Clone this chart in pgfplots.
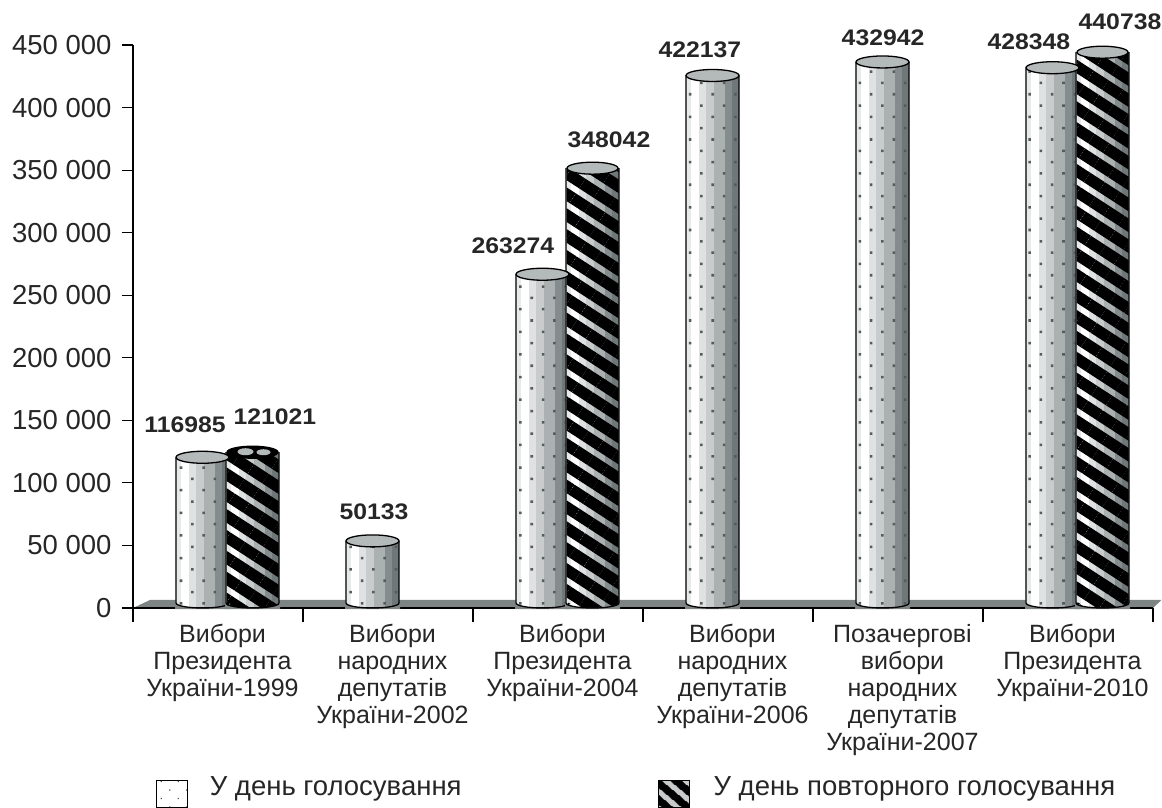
\documentclass[border=0pt]{standalone}
\usepackage{fontspec}
\setmainfont{Liberation Sans}
\newfontfamily\lblfont[FakeStretch=1.1]{Liberation Sans Bold}
\usepackage{pgfplots}
\usepackage{pgfplotstable}
\pgfplotsset{compat=1.18}
\usetikzlibrary{patterns.meta}

\definecolor{ground}{HTML}{7E8384}
\definecolor{capgrey}{HTML}{B4B9BA}
\definecolor{dotgrey}{HTML}{565C5D}
\definecolor{bA}{HTML}{E8E9E9}
\definecolor{bB}{HTML}{FFFFFF}
\definecolor{bC}{HTML}{DFE2E2}
\definecolor{bD}{HTML}{C9CCCD}
\definecolor{bE}{HTML}{ABB0B1}
\definecolor{bF}{HTML}{858C8D}
\definecolor{bG}{HTML}{6F7778}

% first bars, second bars (x = category + offset inside it)
\pgfplotstableread{
x v
0.409 116985
1.409 50133
2.409 263274
3.409 422137
4.409 432942
5.409 428348
}\firsttbl
\pgfplotstableread{
x v
0.703 121021
2.703 348042
5.703 440738
}\secondtbl
% label positions
\pgfplotstableread{
x y v
0.306 146270 116985
0.835 152660 121021
1.418 76730 50133
2.235 289340 263274
2.800 374070 348042
3.335 446000 422137
4.412 455600 432942
5.270 452400 428348
5.806 468400 440738
}\labeltbl

\pgfdeclareplotmark{captop}{%
  \pgfpathellipse{\pgfpointorigin}{\pgfqpoint{26.5pt}{0pt}}{\pgfqpoint{0pt}{6pt}}%
  \pgfusepathqfillstroke}
\pgfdeclareplotmark{captopB}{%
  \pgfpathellipse{\pgfpointorigin}{\pgfqpoint{25.5pt}{0pt}}{\pgfqpoint{0pt}{6pt}}%
  \pgfusepathqfillstroke
  \pgfsetfillcolor{capgrey}%
  \pgfpathellipse{\pgfqpoint{-7pt}{0.5pt}}{\pgfqpoint{8pt}{0pt}}{\pgfqpoint{0pt}{3.5pt}}%
  \pgfpathellipse{\pgfqpoint{11pt}{0pt}}{\pgfqpoint{7pt}{0pt}}{\pgfqpoint{0pt}{3pt}}%
  \pgfusepathqfill}
\pgfdeclareplotmark{capbase}{%
  \pgfsetfillcolor{ground}%
  \pgfpathmoveto{\pgfqpoint{-27.5pt}{-1pt}}%
  \pgfpathlineto{\pgfqpoint{-27.5pt}{5pt}}%
  \pgfpathlineto{\pgfqpoint{-26.5pt}{5pt}}%
  \pgfpatharc{180}{360}{26.5pt and 5pt}%
  \pgfpathlineto{\pgfqpoint{27.5pt}{5pt}}%
  \pgfpathlineto{\pgfqpoint{27.5pt}{-1pt}}%
  \pgfpathclose
  \pgfusepathqfill
  \pgfpathmoveto{\pgfqpoint{-26.5pt}{5pt}}%
  \pgfpatharc{180}{360}{26.5pt and 5pt}%
  \pgfusepathqstroke}

\newcommand{\band}[4]{\addplot[ybar,bar shift=#2pt,bar width=#3pt,fill=#4,draw=none,forget plot]
  table[x=x,y expr=\thisrow{v}+3500] {#1};}
\newcommand{\ribs}[1]{%
  \band{#1}{-24}{6}{bA}
  \band{#1}{-17}{9}{bB}
  \band{#1}{-9.5}{8}{bC}
  \band{#1}{-2}{9}{bD}
  \band{#1}{7}{11}{bE}
  \band{#1}{16.5}{8}{bF}
  \band{#1}{23}{7}{bG}}
\newcommand{\edges}[1]{%
  \band{#1}{-26.5}{1.4}{black}
  \band{#1}{26.5}{1.4}{black}}

\begin{document}
\begin{tikzpicture}[x=1pt,y=1pt]
\useasboundingbox (-133,-199) rectangle (1029,608);
\begin{axis}[
    scale only axis,
    width=1020pt,
    height=563pt,
    xmin=0, xmax=6,
    ymin=0, ymax=450000,
    clip=false,
    axis on top,
    axis lines=left,
    axis line style={-,line width=1.2pt},
    tick align=outside,
    major tick length=11pt,
    minor tick length=14pt,
    tick style={black,line width=1.1pt},
    scaled y ticks=false,
    ytick={0,50000,100000,150000,200000,250000,300000,350000,400000,450000},
    yticklabels={0,50 000,100 000,150 000,200 000,250 000,300 000,350 000,400 000,450 000},
    xtick={0.5,1.5,2.5,3.5,4.5,5.5},
    minor xtick={0,1,2,3,4,5,6},
    x tick style={draw=none},
    minor x tick style={draw=black,line width=1.1pt},
    xticklabels={
      {Вибори\\Президента\\України-1999},
      {Вибори\\народних\\депутатів\\України-2002},
      {Вибори\\Президента\\України-2004},
      {Вибори\\народних\\депутатів\\України-2006},
      {Позачергові\\вибори\\народних\\депутатів\\України-2007},
      {Вибори\\Президента\\України-2010}},
    x tick label style={align=center,anchor=north,xshift=4.5pt,yshift=-2pt,
      font=\fontsize{25}{27}\selectfont,text=black!85},
    y tick label style={xshift=-7pt,font=\fontsize{27.5}{28}\selectfont,text=black!85},
    legend style={draw=none,fill=none,at={(axis cs:0.116,-148000)},anchor=west,
      font=\fontsize{27.5}{28}\selectfont,text=black!85,
      /tikz/column 1/.style={column sep=20pt},
      /tikz/column 2/.style={column sep=191pt},
      /tikz/column 3/.style={column sep=18pt}},
    legend columns=2,
    legend cell align=left,
]
\addlegendimage{legend image code/.code={
  \draw[line width=1pt,fill=white] (0pt,-20pt) rectangle (31pt,7pt);
  \path[pattern={Dots[radius=0.9pt,distance=12pt,angle=45]},pattern color=dotgrey] (0pt,-20pt) rectangle (31pt,7pt);}}
\addlegendentry{У день голосування}
\addlegendimage{legend image code/.code={
  \fill[bD] (0pt,-20pt) rectangle (31pt,7pt);
  \path[pattern={Lines[angle=-40,distance=13pt,line width=8pt]},pattern color=black] (0pt,-20pt) rectangle (31pt,7pt);}}
\addlegendentry{У день повторного голосування}

% ground plane
\addplot[fill=ground,draw=none,forget plot] coordinates {(0,0)(0.1,6400)(6.05,6400)(6,0)} --cycle;

% first series
\ribs{\firsttbl}
\addplot[ybar,bar shift=0pt,bar width=53pt,fill=none,draw=none,forget plot,
  pattern={Dots[radius=1.8pt,distance=16pt,angle=45]},pattern color=dotgrey]
  table[x=x,y expr=\thisrow{v}+3500] {\firsttbl};
\edges{\firsttbl}
\addplot[only marks,mark=capbase,mark options={draw=black,line width=1.3pt},forget plot]
  table[x=x,y expr=0] {\firsttbl};
\addplot[only marks,mark=captop,mark options={draw=black,fill=capgrey,line width=1.3pt},forget plot]
  table[x=x,y expr=\thisrow{v}+3500] {\firsttbl};

% second series
\ribs{\secondtbl}
\addplot[ybar,bar shift=0pt,bar width=52pt,fill=none,draw=none,forget plot,
  pattern={Lines[angle=-33,distance=17.5pt,line width=11.5pt]},pattern color=black]
  table[x=x,y expr=\thisrow{v}+3500] {\secondtbl};
\edges{\secondtbl}
\addplot[only marks,mark=capbase,mark options={draw=black,line width=1.3pt},forget plot]
  table[x=x,y expr=0] {\secondtbl};
\addplot[only marks,mark=captopB,mark options={draw=black,fill=black,line width=1.3pt},forget plot]
  table[x=x,y expr=\thisrow{v}+3500] {\secondtbl};

% value labels
\addplot[only marks,mark=none,forget plot,
  nodes near coords,point meta=explicit symbolic,
  every node near coord/.append style={anchor=center,yshift=0pt,text=black!85,
    font=\lblfont\fontsize{22.5}{23}\selectfont}]
  table[x=x,y=y,meta=v] {\labeltbl};
\end{axis}
\end{tikzpicture}
\end{document}
